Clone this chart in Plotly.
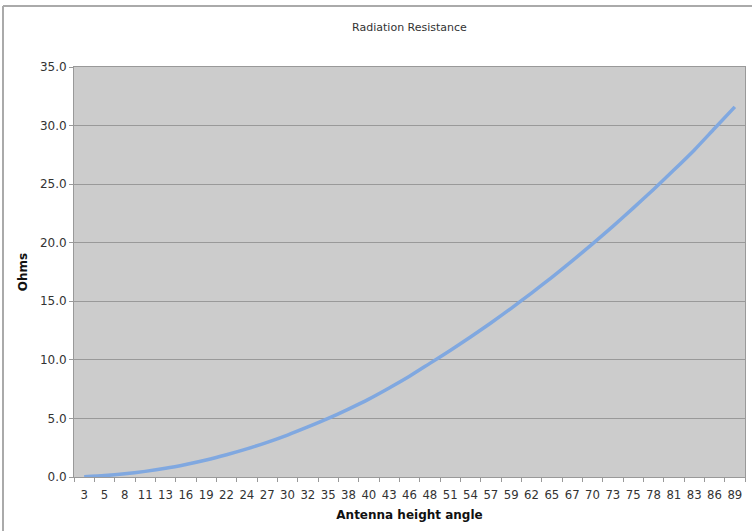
import plotly.graph_objects as go

angle_labels = ["3", "5", "8", "11", "13", "16", "19", "22", "24", "27", "30", "32",
                "35", "38", "40", "43", "46", "48", "51", "54", "57", "59", "62", "65",
                "67", "70", "73", "75", "78", "81", "83", "86", "89"]
ohms = [0.03, 0.12, 0.27, 0.48, 0.74, 1.07, 1.45, 1.90, 2.40, 2.96, 3.58, 4.27,
        5.0, 5.8, 6.65, 7.6, 8.6, 9.7, 10.8, 11.95, 13.15, 14.4, 15.7, 17.05,
        18.45, 19.9, 21.4, 22.95, 24.55, 26.2, 27.9, 29.75, 31.6]
y_ticks = [0, 5, 10, 15, 20, 25, 30, 35]

W, H = 752, 531
L, R, T, B = 74, 7, 67, 54
pw, ph = W - L - R, H - T - B

fig = go.Figure()
fig.add_trace(go.Scatter(
    x=angle_labels, y=ohms, mode="lines",
    line=dict(color="#80a8e0", width=3.5, shape="spline", smoothing=0.6),
    hoverinfo="x+y", showlegend=False,
))

font_family = "DejaVu Sans, Verdana, sans-serif"
narrow = "Liberation Sans Narrow, DejaVu Sans Condensed, Liberation Sans, sans-serif"
fig.update_layout(
    width=W, height=H,
    margin=dict(l=L, r=R, t=T, b=B),
    paper_bgcolor="white",
    plot_bgcolor="#cccccc",
    font=dict(family=font_family, size=11, color="#333333"),
    title=dict(text="Radiation Resistance", x=0.5, xanchor="center",
               xref="paper", yref="container",
               y=1 - 27 / H, yanchor="middle",
               font=dict(size=11, color="#333333")),
    xaxis=dict(
        type="category",
        range=[-0.5, len(angle_labels) - 0.5],
        title=dict(text="<b>Antenna height angle</b>", standoff=10,
                   font=dict(size=12, color="#111111")),
        tickson="boundaries", ticks="outside", ticklen=4, tickcolor="#999999",
        tickangle=0, ticklabelstandoff=5,
        showgrid=False, showline=True, linecolor="#999999", linewidth=1, mirror=True,
        tickfont=dict(family=narrow, size=13, color="#333333"),
        zeroline=False,
    ),
    yaxis=dict(
        range=[0, 35], tickvals=y_ticks, tickformat=".1f",
        title=dict(text="<b>Ohms</b>", standoff=9,
                   font=dict(size=12, color="#111111")),
        ticks="outside", ticklen=4, tickcolor="#999999",
        showgrid=True, gridcolor="#999999", gridwidth=1,
        showline=True, linecolor="#999999", linewidth=1, mirror=True,
        zeroline=False,
        tickfont=dict(size=12, color="#333333"),
    ),
)

# outer chart frame (left and top edges)
fx = (3 - L) / pw
fy_top = 1 + (T - 6) / ph
fy_bot = -(B + 5) / ph
fig.add_shape(type="line", xref="paper", yref="paper",
              x0=fx, x1=fx, y0=fy_bot, y1=fy_top,
              line=dict(color="#aaaaaa", width=2))
fig.add_shape(type="line", xref="paper", yref="paper",
              x0=fx, x1=1 + (R + 5) / pw, y0=fy_top, y1=fy_top,
              line=dict(color="#aaaaaa", width=2))

fig.write_html("out.html",
               config={"displayModeBar": False},
               post_script="document.body.style.margin='0px';document.body.style.overflow='hidden';")
